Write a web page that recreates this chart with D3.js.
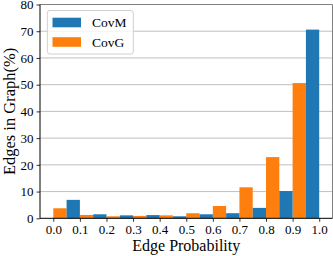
<!DOCTYPE html>
<html>
<head>
<meta charset="utf-8">
<script src="https://cdn.jsdelivr.net/npm/d3@7"></script>
<style>
  body { margin: 0; background: #fff; }
  svg text { font-family: "Liberation Serif", "DejaVu Serif", serif; fill: #000; }
</style>
</head>
<body>
<svg id="chart" width="333" height="256"></svg>
<script>
// lower edges of the histogram bins (bin width 0.1)
const binStarts = [0.0, 0.1, 0.2, 0.3, 0.4, 0.5, 0.6, 0.7, 0.8, 0.9];
const covM = [6.9, 1.5, 1.1, 1.2, 0.75, 1.5, 1.9, 3.9, 10.2, 70.6];
const covG = [3.75, 1.25, 0.75, 0.9, 1.1, 1.9, 4.6, 11.6, 22.9, 50.6];
const xTicks = [0, 0.1, 0.2, 0.3, 0.4, 0.5, 0.6, 0.7, 0.8, 0.9, 1.0];
const yTicks = [0, 10, 20, 30, 40, 50, 60, 70, 80];
const seriesNames = ["CovM", "CovG"];
const colors = {CovM: "#1f77b4", CovG: "#ff7f0e"};

const margin = {top: 4.5, right: 0.5, bottom: 37.7, left: 40};
const W = 333, H = 256;
const binW = 0.1;

const svg = d3.select("#chart");

const x = d3.scaleLinear().domain([-0.05, 1.05]).range([margin.left, W - margin.right]);
const y = d3.scaleLinear().domain([0, 80]).range([H - margin.bottom, margin.top]);

// grid
svg.append("g")
  .selectAll("line")
  .data(yTicks.filter(d => d > 0 && d < 80))
  .join("line")
  .attr("x1", margin.left).attr("x2", W - margin.right)
  .attr("y1", d => y(d)).attr("y2", d => y(d))
  .attr("stroke", "#b0b0b0")
  .attr("stroke-width", 0.8);

// bars: CovG on left half of bin, CovM on right half
const bars = svg.append("g");
bars.selectAll("rect.g")
  .data(binStarts.map((b, i) => ({b, v: covG[i]})))
  .join("rect")
  .attr("class", "g")
  .attr("x", d => x(d.b))
  .attr("width", d => x(d.b + binW / 2) - x(d.b))
  .attr("y", d => y(d.v))
  .attr("height", d => y(0) - y(d.v))
  .attr("fill", colors.CovG);
bars.selectAll("rect.m")
  .data(binStarts.map((b, i) => ({b, v: covM[i]})))
  .join("rect")
  .attr("class", "m")
  .attr("x", d => x(d.b + binW / 2))
  .attr("width", d => x(d.b + binW) - x(d.b + binW / 2))
  .attr("y", d => y(d.v))
  .attr("height", d => y(0) - y(d.v))
  .attr("fill", colors.CovM);

// axes
const xAxis = svg.append("g")
  .attr("transform", `translate(0,${y(0)})`)
  .call(d3.axisBottom(x).tickValues(xTicks).tickFormat(d3.format(".1f")).tickSize(3.5).tickPadding(3));
const yAxis = svg.append("g")
  .attr("transform", `translate(${margin.left},0)`)
  .call(d3.axisLeft(y).tickValues(yTicks).tickSize(3.5).tickPadding(3));
[xAxis, yAxis].forEach(a => {
  a.select(".domain").remove();
  a.selectAll("text").style("font-size", "13px").attr("fill", "#000");
  a.selectAll("line").attr("stroke", "#000").attr("stroke-width", 0.8);
});

// spines
svg.append("line").attr("x1", margin.left).attr("x2", W - margin.right)
  .attr("y1", y(80)).attr("y2", y(80)).attr("stroke", "#808080").attr("stroke-width", 1);
svg.append("line").attr("x1", W - margin.right).attr("x2", W - margin.right)
  .attr("y1", y(80)).attr("y2", y(0)).attr("stroke", "#808080").attr("stroke-width", 1);
svg.append("line").attr("x1", margin.left).attr("x2", margin.left)
  .attr("y1", y(80)).attr("y2", y(0)).attr("stroke", "#000").attr("stroke-width", 1);
svg.append("line").attr("x1", margin.left).attr("x2", W - margin.right)
  .attr("y1", y(0)).attr("y2", y(0)).attr("stroke", "#000").attr("stroke-width", 1);

// axis labels
svg.append("text")
  .attr("x", (x(-0.05) + x(1.05)) / 2)
  .attr("y", 251)
  .attr("text-anchor", "middle")
  .style("font-size", "16px")
  .text("Edge Probability");
svg.append("text")
  .attr("transform", `translate(15,${(y(0) + y(80)) / 2}) rotate(-90)`)
  .attr("text-anchor", "middle")
  .style("font-size", "16.5px")
  .text("Edges in Graph(%)");

// legend
const leg = svg.append("g");
leg.append("rect")
  .attr("x", 47.3).attr("y", 10.5).attr("width", 86).attr("height", 43.5)
  .attr("rx", 2.5)
  .attr("fill", "#fff").attr("fill-opacity", 0.8)
  .attr("stroke", "#d0d0d0").attr("stroke-width", 1);
seriesNames.forEach((name, i) => {
  const cy = 22.5 + i * 19.5;
  leg.append("rect")
    .attr("x", 52.5).attr("y", cy - 4.8).attr("width", 28.5).attr("height", 9.6)
    .attr("fill", colors[name]);
  leg.append("text")
    .attr("x", 92).attr("y", cy + 4.5)
    .style("font-size", "13.5px")
    .text(name);
});
</script>
</body>
</html>
